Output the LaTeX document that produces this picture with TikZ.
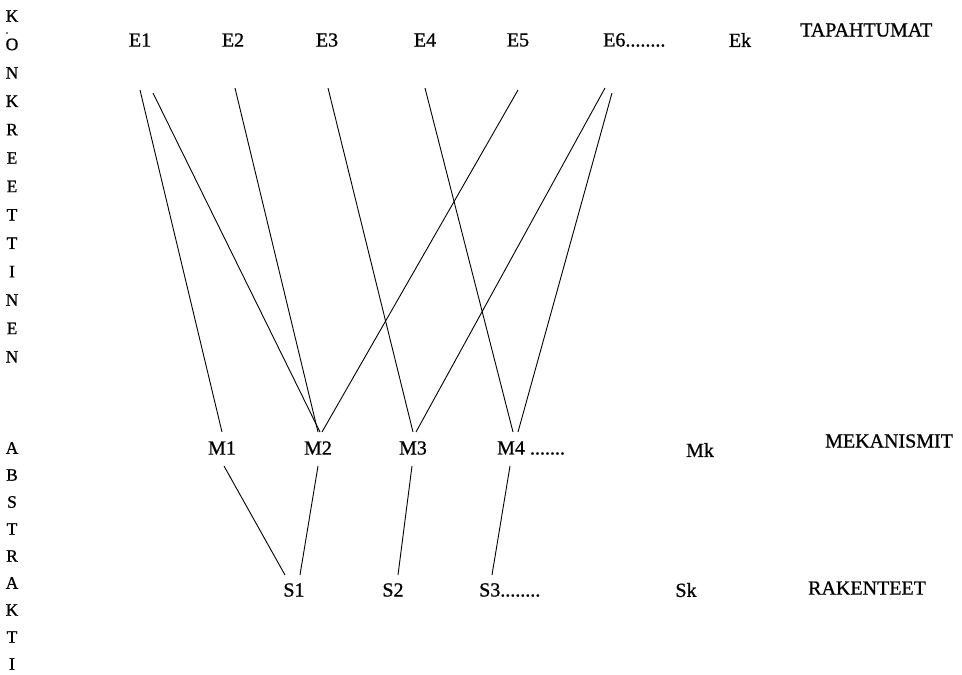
\documentclass[tikz,border=0pt]{standalone}
\usepackage{fontspec}
\setmainfont{Liberation Serif}[FakeBold=0.9]
\begin{document}
\begin{tikzpicture}[x=1pt,y=-1pt,
  lbl/.style={inner sep=0pt, font=\fontsize{20}{20}\selectfont},
  side/.style={inner sep=0pt, anchor=west, font=\fontsize{20}{20}\selectfont},
  vert/.style={inner sep=0pt, font=\fontsize{17.5}{17.5}\selectfont},
  link/.style={line width=0.9pt, black}]
\useasboundingbox (0,0) rectangle (962,675);

% vertical words on the left
\foreach \ch [count=\i from 0] in {K,O,N,K,R,E,E,T,T,I,N,E,N}
  \node[vert] (k\i) at (12, 16+\i*28.4) {\ch};
\fill (7,33) circle (0.9);
\foreach \ch [count=\i from 0] in {A,B,S,T,R,A,K,T,I}
  \node[vert] (a\i) at (12, 448+\i*27) {\ch};

% events
\node[lbl] (e1) at (140,40) {E1};
\node[lbl] (e2) at (233,40) {E2};
\node[lbl] (e3) at (327,40) {E3};
\node[lbl] (e4) at (425,40) {E4};
\node[lbl] (e5) at (518,40) {E5};
\node[lbl, anchor=west] (e6) at (603,40) {E6........};
\node[lbl] (ek) at (740,40) {Ek};
\node[side] (tap) at (800,30) {TAPAHTUMAT};

% mechanisms
\node[lbl] (m1) at (222,448) {M1};
\node[lbl] (m2) at (318,448) {M2};
\node[lbl] (m3) at (413,448) {M3};
\node[lbl, anchor=west] (m4) at (497,448) {M4 .......};
\node[lbl] (mk) at (700,450) {Mk};
\node[side] (mek) at (825,441) {MEKANISMIT};

% structures
\node[lbl] (s1) at (294,590) {S1};
\node[lbl] (s2) at (393,590) {S2};
\node[lbl, anchor=west] (s3) at (479,590) {S3........};
\node[lbl] (sk) at (686,590) {Sk};
\node[side] (rak) at (808,588) {RAKENTEET};

% events to mechanisms
\draw[link] ([shift={(0,50)}]e1.center) -- ([shift={(0,-16)}]m1.center);
\draw[link] ([shift={(13,53)}]e1.center) -- ([shift={(2,-16)}]m2.center);
\draw[link] ([shift={(2,48)}]e2.center) -- ([shift={(0,-16)}]m2.center);
\draw[link] ([shift={(1,48)}]e3.center) -- ([shift={(0,-16)}]m3.center);
\draw[link] ([shift={(0,48)}]e4.center) -- ([shift={(16,-16)}]m4.west);
\draw[link] ([shift={(0,50)}]e5.center) -- ([shift={(4,-16)}]m2.center);
\draw[link] ([shift={(2,48)}]e6.west) -- ([shift={(3,-16)}]m3.center);
\draw[link] ([shift={(9,53)}]e6.west) -- ([shift={(21,-16)}]m4.west);

% mechanisms to structures
\draw[link] ([shift={(2,18)}]m1.center) -- ([shift={(-9,-15)}]s1.center);
\draw[link] ([shift={(0,18)}]m2.center) -- ([shift={(6,-15)}]s1.center);
\draw[link] ([shift={(-1,18)}]m3.center) -- ([shift={(5,-15)}]s2.center);
\draw[link] ([shift={(13,18)}]m4.west) -- ([shift={(13,-15)}]s3.west);
\end{tikzpicture}
\end{document}
